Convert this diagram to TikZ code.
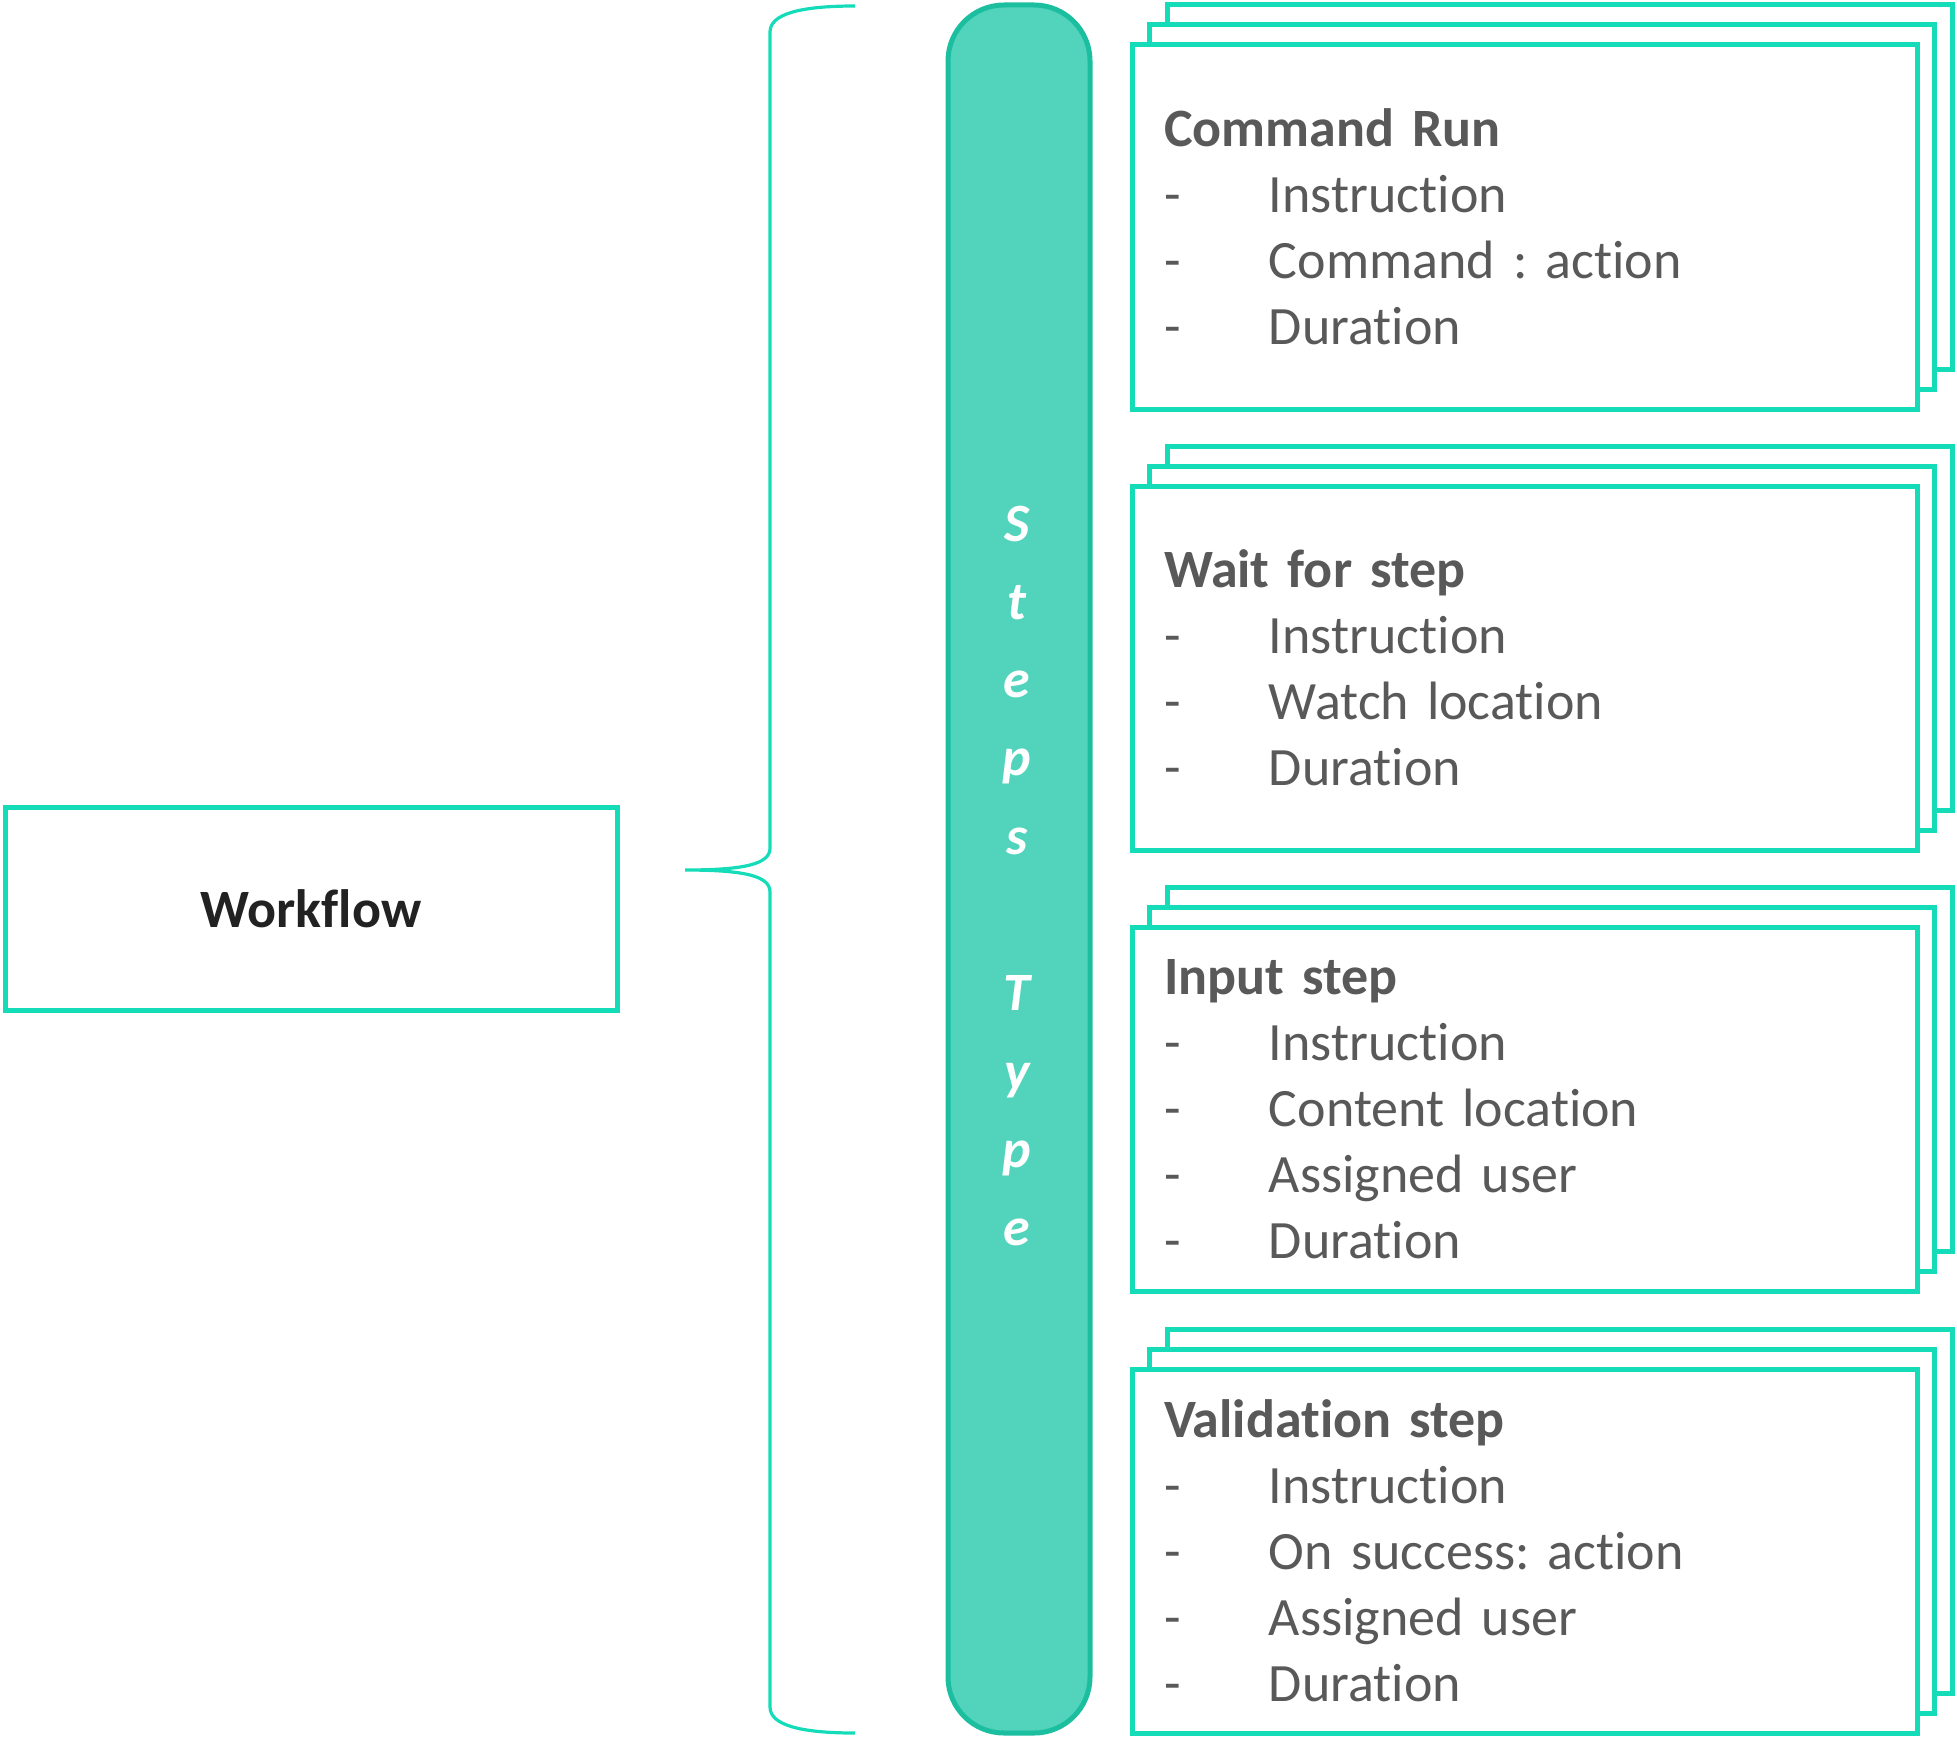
\documentclass[tikz,border=0pt]{standalone}
\usepackage{fontspec}
\setmainfont{Carlito}[Ligatures=NoCommon]
\usetikzlibrary{shadows}
\frenchspacing

\newcommand{\stepitem}[1]{\makebox[52.5pt][l]{-}#1}

\begin{document}
\begin{tikzpicture}
			[x=0.5pt,y=-0.5pt,line join=miter,
			%Styles
			main box/.style={draw=boxline,line width=2.5pt,fill=white},
			flow box/.style={main box,minimum width=306pt,minimum height=101.5pt,text=flowtext,font=\fontsize{27}{33}\selectfont\bfseries},
			step box/.style={main box,inner xsep=16pt,inner ysep=0pt,text width=360.5pt,minimum height=182pt,align=left,
				text=steptext,font=\fontsize{27}{33}\selectfont,
				copy shadow={shadow xshift=17.5pt,shadow yshift=20pt,draw=boxline,line width=2.5pt,fill=white},
				copy shadow={shadow xshift=8.75pt,shadow yshift=10pt,draw=boxline,line width=2.5pt,fill=white}},
			type bar/.style={draw=barline,fill=barfill,line width=2.5pt,rounded corners=28pt,minimum width=71pt,minimum height=864pt},
			letter/.style={text=white,anchor=base,inner sep=0pt,font=\fontsize{27}{33}\selectfont\bfseries\itshape},
			brace line/.style={draw=boxline,line width=1.6pt}
			]
			
			%Colors
			\definecolor{boxline}{HTML}{14DCB9}
			\definecolor{barline}{HTML}{1BBFA0}
			\definecolor{barfill}{HTML}{52D3BC}
			\definecolor{flowtext}{HTML}{222222}
			\definecolor{steptext}{HTML}{595959}
			
			\useasboundingbox (0,0) rectangle (1957,1750);
			
			%The graphic
			\node[flow box] (workflow) at (311,908.5) {Workflow};
			
			\coordinate (bracetop) at (855,6);
			\coordinate (bracetip) at (685,870);
			\coordinate (bracebot) at (855,1733);
			\draw[brace line] (bracetop) .. controls (800,6) and (770,14) .. (770,32) -- (770,848)
				.. controls (770,864) and (745,870) .. (bracetip)
				.. controls (745,870) and (770,876) .. (770,892) -- (770,1707)
				.. controls (770,1725) and (800,1733) .. (bracebot);
			
			\node[type bar] (stepstype) at (1019,869) {};
			\foreach \l/\i in {S/0,t/1,e/2,p/3,s/4,T/6,y/7,p/8,e/9}
				\node[letter] (letter\i) at (1017,541+78.3*\i) {\l};
			
			\node[step box] (cmdrun) at (1524.5,227) {\textbf{Command Run}\\
				\stepitem{Instruction}\\
				\stepitem{Command : action}\\
				\stepitem{Duration}};
			\node[step box] (waitstep) at (1524.5,668) {\textbf{Wait for step}\\
				\stepitem{Instruction}\\
				\stepitem{Watch location}\\
				\stepitem{Duration}};
			\node[step box] (inputstep) at (1524.5,1109.5) {\textbf{Input step}\\
				\stepitem{Instruction}\\
				\stepitem{Content location}\\
				\stepitem{Assigned user}\\
				\stepitem{Duration}};
			\node[step box] (validstep) at (1524.5,1551) {\textbf{Validation step}\\
				\stepitem{Instruction}\\
				\stepitem{On success: action}\\
				\stepitem{Assigned user}\\
				\stepitem{Duration}};
		\end{tikzpicture}
\end{document}
